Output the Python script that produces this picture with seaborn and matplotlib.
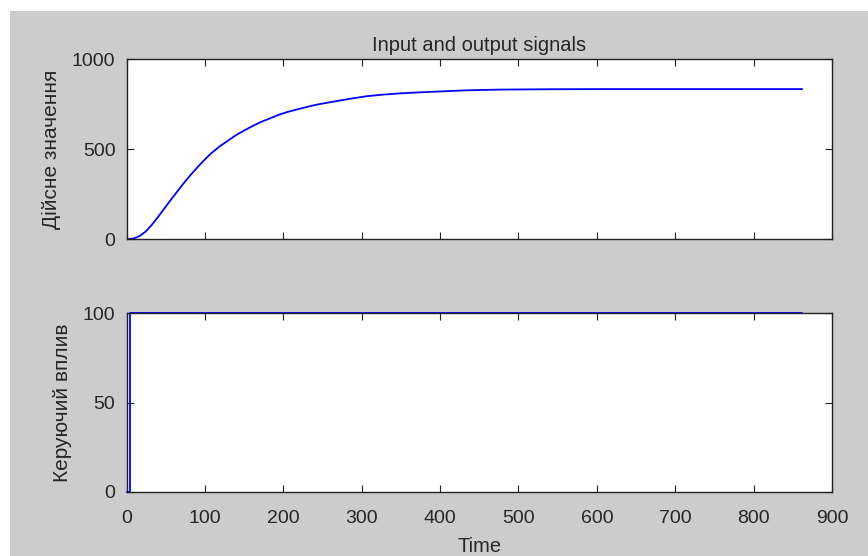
import matplotlib
matplotlib.use("Agg")
import matplotlib.pyplot as plt
from matplotlib.patches import Rectangle
import seaborn as sns
import pandas as pd

# Output signal
out_time = [0, 5, 9, 13, 17, 20, 24, 27, 31, 34, 38, 41, 45, 48, 52, 55, 60,
            66, 71, 77, 82, 88, 93, 98, 103, 108, 119, 130, 140, 151, 162, 172,
            183, 193, 204, 215, 225, 236, 247, 264, 285, 306, 327, 349, 370,
            391, 434, 476, 540, 620, 700, 862]
out_value = [0, 0, 3, 9, 18, 27, 40, 53, 72, 88, 110, 127, 150, 168, 191, 209,
             237, 271, 299, 331, 357, 386, 410, 433, 455, 476, 515, 548, 578,
             605, 630, 651, 670, 688, 704, 717, 728, 740, 750, 763, 779, 793,
             802, 809, 814, 818, 826, 830, 832, 833, 833, 833]

# Control signal (step)
in_time = [0, 5, 5, 862]
in_value = [0, 0, 100, 100]

title = "Input and output signals"
ylabel_top = "Дійсне значення"
ylabel_bottom = "Керуючий вплив"
xlabel = "Time"
x_ticks = [0, 100, 200, 300, 400, 500, 600, 700, 800, 900]
y_ticks_top = [0, 500, 1000]
y_ticks_bottom = [0, 50, 100]

sns.set_theme(style="ticks")
plt.rcParams['font.family'] = ['Liberation Sans', 'DejaVu Sans']
plt.rcParams['font.size'] = 14

TXT = "#262626"
W, H = 868, 556
fig = plt.figure(figsize=(W / 100, H / 100), dpi=100, facecolor="white")
fig.patches.append(Rectangle((10 / W, 0), 1 - 10 / W, 1 - 11 / H,
                             transform=fig.transFigure, facecolor="#cccccc",
                             edgecolor="none", zorder=-10))

ax1 = fig.add_axes([126.5 / W, 1 - 239 / H, (832 - 126.5) / W, 180 / H])
ax2 = fig.add_axes([126.5 / W, 1 - 492 / H, (832 - 126.5) / W, 179 / H])

df_out = pd.DataFrame({"t": out_time, "y": out_value})
df_in = pd.DataFrame({"t": in_time, "u": in_value})

sns.lineplot(data=df_out, x="t", y="y", ax=ax1, color="#0000ff", lw=1.3,
             estimator=None, sort=False)
sns.lineplot(data=df_in, x="t", y="u", ax=ax2, color="#0000ff", lw=1.3,
             estimator=None, sort=False, clip_on=False)

for ax, yt in ((ax1, y_ticks_top), (ax2, y_ticks_bottom)):
    ax.set_facecolor("white")
    ax.set_xlim(0, 900)
    ax.set_ylim(yt[0], yt[-1])
    ax.set_xticks(x_ticks)
    ax.set_yticks(yt)
    ax.tick_params(direction="in", length=5, width=0.8, color="#222222",
                   top=True, right=True, labelsize=14, labelcolor=TXT)
    ax.tick_params(axis="x", pad=13)
    ax.tick_params(axis="y", pad=8)
    for s in ax.spines.values():
        s.set_visible(True)
        s.set_color("#222222")
        s.set_linewidth(1.0)

ax1.set_xticklabels([])
ax1.set_xlabel("")
ax1.set_ylabel(ylabel_top, fontsize=15, color=TXT, labelpad=8)
ax1.set_title(title, fontsize=14.5, color=TXT, pad=6)
ax2.set_ylabel(ylabel_bottom, fontsize=15, color=TXT, labelpad=8)
ax2.set_xlabel(xlabel, fontsize=14.5, color=TXT, labelpad=7)

fig.savefig("out.png", dpi=100, facecolor=fig.get_facecolor())
